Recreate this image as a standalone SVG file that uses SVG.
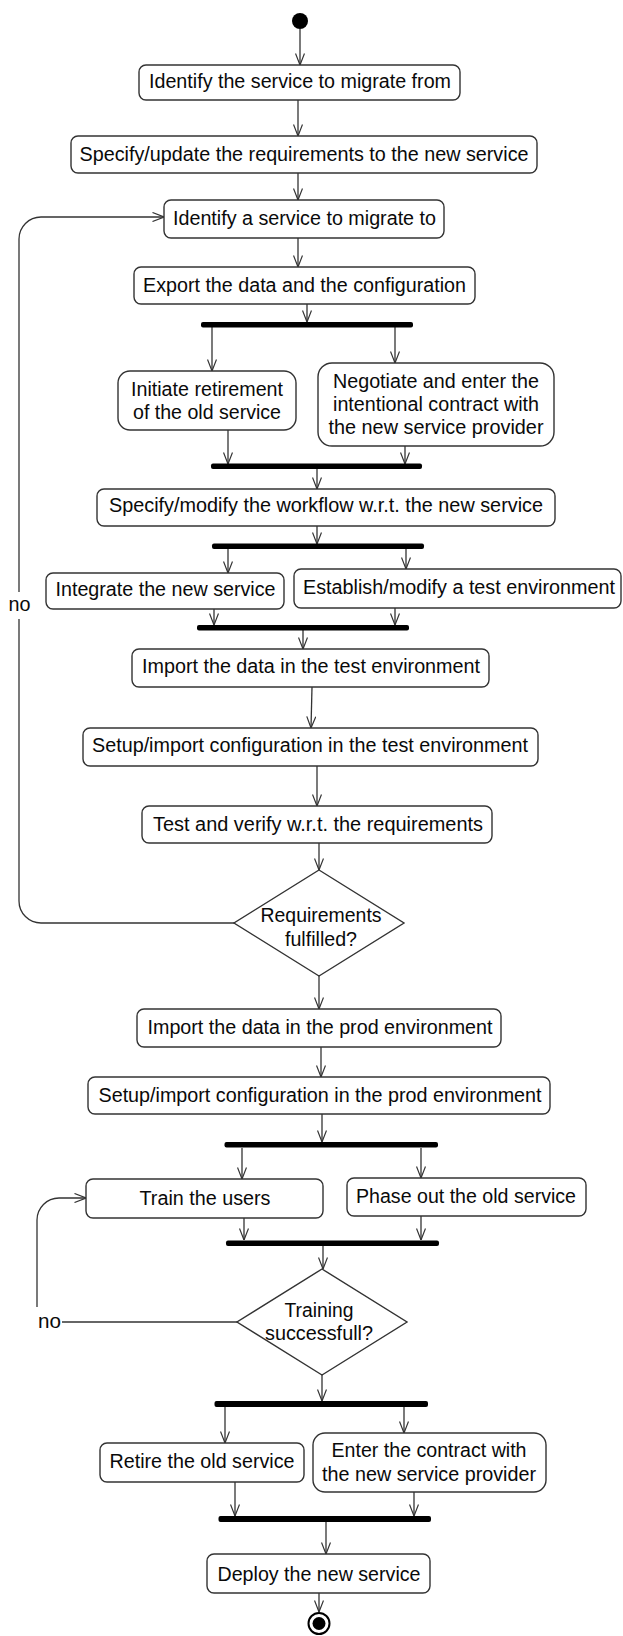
<svg xmlns="http://www.w3.org/2000/svg" width="623" height="1636" viewBox="0 0 623 1636">
<style>
.bg{fill:#fff}
.box{fill:#fff;stroke:#333;stroke-width:1.4}
.dia{fill:#fff;stroke:#333;stroke-width:1.4}
.bar{fill:#000}
.t{font-family:"Liberation Sans",Arial,sans-serif;font-size:19.5px;fill:#0a0a0a;text-anchor:middle}
.c{fill:none;stroke:#333;stroke-width:1.3}
</style>
<defs>
<marker id="ah" viewBox="0 0 12 10" markerWidth="12" markerHeight="10" refX="12" refY="5" orient="auto" markerUnits="userSpaceOnUse">
<path d="M0.5,0.5 L12,5 L0.5,9.5" fill="none" stroke="#333" stroke-width="1.2"/>
</marker>
</defs>
<rect class="bg" x="0" y="0" width="623" height="1636"/>

<g id="connectors">
<path class="c" d="M300,29 V65" marker-end="url(#ah)"/>
<path class="c" d="M298,100 V136" marker-end="url(#ah)"/>
<path class="c" d="M298,173 V200" marker-end="url(#ah)"/>
<path class="c" d="M298,238 V267" marker-end="url(#ah)"/>
<path class="c" d="M307,304 V322" marker-end="url(#ah)"/>
<path class="c" d="M212,327 V371" marker-end="url(#ah)"/>
<path class="c" d="M395,327 V363" marker-end="url(#ah)"/>
<path class="c" d="M228,430 V464" marker-end="url(#ah)"/>
<path class="c" d="M405,446 V464" marker-end="url(#ah)"/>
<path class="c" d="M317,469 V489" marker-end="url(#ah)"/>
<path class="c" d="M317,526 V544" marker-end="url(#ah)"/>
<path class="c" d="M228,549 V573" marker-end="url(#ah)"/>
<path class="c" d="M406,549 V569" marker-end="url(#ah)"/>
<path class="c" d="M214,609 V625" marker-end="url(#ah)"/>
<path class="c" d="M395,608 V625" marker-end="url(#ah)"/>
<path class="c" d="M303,630 V649" marker-end="url(#ah)"/>
<path class="c" d="M312,687 L311,728" marker-end="url(#ah)"/>
<path class="c" d="M317,766 V806" marker-end="url(#ah)"/>
<path class="c" d="M319,843 V870" marker-end="url(#ah)"/>
<path class="c" d="M234,923 H41 A22,22 0 0 1 19,901 V619 M19,592 V239 A22,22 0 0 1 41,217 H164" marker-end="url(#ah)"/>
<path class="c" d="M319,976 V1009" marker-end="url(#ah)"/>
<path class="c" d="M321,1047 V1077" marker-end="url(#ah)"/>
<path class="c" d="M322,1114 V1142" marker-end="url(#ah)"/>
<path class="c" d="M242,1148 V1179" marker-end="url(#ah)"/>
<path class="c" d="M421,1148 V1178" marker-end="url(#ah)"/>
<path class="c" d="M244,1218 V1240" marker-end="url(#ah)"/>
<path class="c" d="M421,1216 V1240" marker-end="url(#ah)"/>
<path class="c" d="M323,1246 V1269" marker-end="url(#ah)"/>
<path class="c" d="M237,1322 H62"/>
<path class="c" d="M37,1307 V1220 A22,22 0 0 1 59,1198 H86" marker-end="url(#ah)"/>
<path class="c" d="M322,1375 V1401" marker-end="url(#ah)"/>
<path class="c" d="M225,1407 V1443" marker-end="url(#ah)"/>
<path class="c" d="M404,1407 V1433" marker-end="url(#ah)"/>
<path class="c" d="M235,1482 V1516" marker-end="url(#ah)"/>
<path class="c" d="M414,1492 V1516" marker-end="url(#ah)"/>
<path class="c" d="M326,1522 V1554" marker-end="url(#ah)"/>
<path class="c" d="M319,1593 V1612" marker-end="url(#ah)"/>
<text class="t" x="19.5" y="611" textLength="22" lengthAdjust="spacingAndGlyphs">no</text>
<text class="t" x="49.5" y="1328" textLength="23" lengthAdjust="spacingAndGlyphs">no</text>
</g>

<g id="start"><circle cx="300" cy="21" r="8" fill="#000"/></g>

<g id="n1"><rect class="box" x="139" y="65" width="321" height="35" rx="7"/>
<text class="t" x="300" y="88" textLength="302" lengthAdjust="spacingAndGlyphs">Identify the service to migrate from</text></g>

<g id="n2"><rect class="box" x="71" y="136" width="466" height="37" rx="7"/>
<text class="t" x="304" y="160.5" textLength="449" lengthAdjust="spacingAndGlyphs">Specify/update the requirements to the new service</text></g>

<g id="n3"><rect class="box" x="164" y="200" width="280" height="38" rx="7"/>
<text class="t" x="304.5" y="224.5" textLength="263" lengthAdjust="spacingAndGlyphs">Identify a service to migrate to</text></g>

<g id="n4"><rect class="box" x="134" y="267" width="341" height="37" rx="7"/>
<text class="t" x="304.5" y="292" textLength="323" lengthAdjust="spacingAndGlyphs">Export the data and the configuration</text></g>

<g id="bar1"><rect class="bar" x="201" y="322" width="212" height="5.5" rx="2"/></g>

<g id="n5"><rect class="box" x="118" y="371" width="178" height="59" rx="12"/>
<text class="t" x="207" y="396" textLength="152" lengthAdjust="spacingAndGlyphs">Initiate retirement</text>
<text class="t" x="207" y="419" textLength="148" lengthAdjust="spacingAndGlyphs">of the old service</text></g>

<g id="n6"><rect class="box" x="318" y="363" width="236" height="83" rx="14"/>
<text class="t" x="436" y="388" textLength="206" lengthAdjust="spacingAndGlyphs">Negotiate and enter the</text>
<text class="t" x="436" y="411" textLength="206" lengthAdjust="spacingAndGlyphs">intentional contract with</text>
<text class="t" x="436" y="434" textLength="215" lengthAdjust="spacingAndGlyphs">the new service provider</text></g>

<g id="bar2"><rect class="bar" x="211" y="463.5" width="211" height="5.5" rx="2"/></g>

<g id="n7"><rect class="box" x="97" y="489" width="458" height="37" rx="7"/>
<text class="t" x="326" y="512" textLength="434" lengthAdjust="spacingAndGlyphs">Specify/modify the workflow w.r.t. the new service</text></g>

<g id="bar3"><rect class="bar" x="212" y="543.5" width="212" height="5.5" rx="2"/></g>

<g id="n8"><rect class="box" x="46" y="573" width="238" height="36" rx="7"/>
<text class="t" x="165.5" y="596" textLength="220" lengthAdjust="spacingAndGlyphs">Integrate the new service</text></g>

<g id="n9"><rect class="box" x="294" y="569" width="327" height="39" rx="7"/>
<text class="t" x="459" y="594" textLength="312" lengthAdjust="spacingAndGlyphs">Establish/modify a test environment</text></g>

<g id="bar4"><rect class="bar" x="197" y="625" width="212" height="5.5" rx="2"/></g>

<g id="n10"><rect class="box" x="132" y="649" width="357" height="38" rx="7"/>
<text class="t" x="311" y="673" textLength="338" lengthAdjust="spacingAndGlyphs">Import the data in the test environment</text></g>

<g id="n11"><rect class="box" x="83" y="728" width="455" height="38" rx="7"/>
<text class="t" x="310" y="752" textLength="436" lengthAdjust="spacingAndGlyphs">Setup/import configuration in the test environment</text></g>

<g id="n12"><rect class="box" x="142" y="806" width="350" height="37" rx="7"/>
<text class="t" x="318" y="830.5" textLength="330" lengthAdjust="spacingAndGlyphs">Test and verify w.r.t. the requirements</text></g>

<g id="d1"><polygon class="dia" points="319,870 404,923 319,976 234,923"/>
<text class="t" x="321" y="922" textLength="121" lengthAdjust="spacingAndGlyphs">Requirements</text>
<text class="t" x="321" y="946" textLength="72" lengthAdjust="spacingAndGlyphs">fulfilled?</text></g>

<g id="n14"><rect class="box" x="137" y="1009" width="364" height="38" rx="7"/>
<text class="t" x="320" y="1034" textLength="345" lengthAdjust="spacingAndGlyphs">Import the data in the prod environment</text></g>

<g id="n15"><rect class="box" x="88" y="1077" width="462" height="37" rx="7"/>
<text class="t" x="320" y="1101.5" textLength="443" lengthAdjust="spacingAndGlyphs">Setup/import configuration in the prod environment</text></g>

<g id="bar5"><rect class="bar" x="224.5" y="1142" width="213.5" height="5.5" rx="2"/></g>

<g id="n16"><rect class="box" x="86" y="1179" width="237" height="39" rx="7"/>
<text class="t" x="205" y="1205" textLength="131" lengthAdjust="spacingAndGlyphs">Train the users</text></g>

<g id="n17"><rect class="box" x="347" y="1178" width="239" height="38" rx="7"/>
<text class="t" x="466" y="1203" textLength="220" lengthAdjust="spacingAndGlyphs">Phase out the old service</text></g>

<g id="bar6"><rect class="bar" x="226" y="1240.5" width="213" height="5.5" rx="2"/></g>

<g id="d2"><polygon class="dia" points="322,1269 407,1322 322,1375 237,1322"/>
<text class="t" x="319" y="1317" textLength="69" lengthAdjust="spacingAndGlyphs">Training</text>
<text class="t" x="319" y="1340" textLength="108" lengthAdjust="spacingAndGlyphs">successfull?</text></g>

<g id="bar7"><rect class="bar" x="214.5" y="1401" width="213.5" height="6" rx="2"/></g>

<g id="n19"><rect class="box" x="100" y="1443" width="204" height="39" rx="7"/>
<text class="t" x="202" y="1468" textLength="185" lengthAdjust="spacingAndGlyphs">Retire the old service</text></g>

<g id="n20"><rect class="box" x="313" y="1433" width="233" height="59" rx="12"/>
<text class="t" x="429" y="1456.5" textLength="195" lengthAdjust="spacingAndGlyphs">Enter the contract with</text>
<text class="t" x="429" y="1481" textLength="214" lengthAdjust="spacingAndGlyphs">the new service provider</text></g>

<g id="bar8"><rect class="bar" x="218.5" y="1516" width="212.5" height="6" rx="2"/></g>

<g id="n21"><rect class="box" x="207" y="1554" width="223" height="39" rx="7"/>
<text class="t" x="319" y="1580.5" textLength="203" lengthAdjust="spacingAndGlyphs">Deploy the new service</text></g>

<g id="end"><circle cx="319" cy="1623.5" r="10.5" fill="#fff" stroke="#000" stroke-width="2"/>
<circle cx="319" cy="1623.5" r="6.5" fill="#000"/></g>
</svg>
